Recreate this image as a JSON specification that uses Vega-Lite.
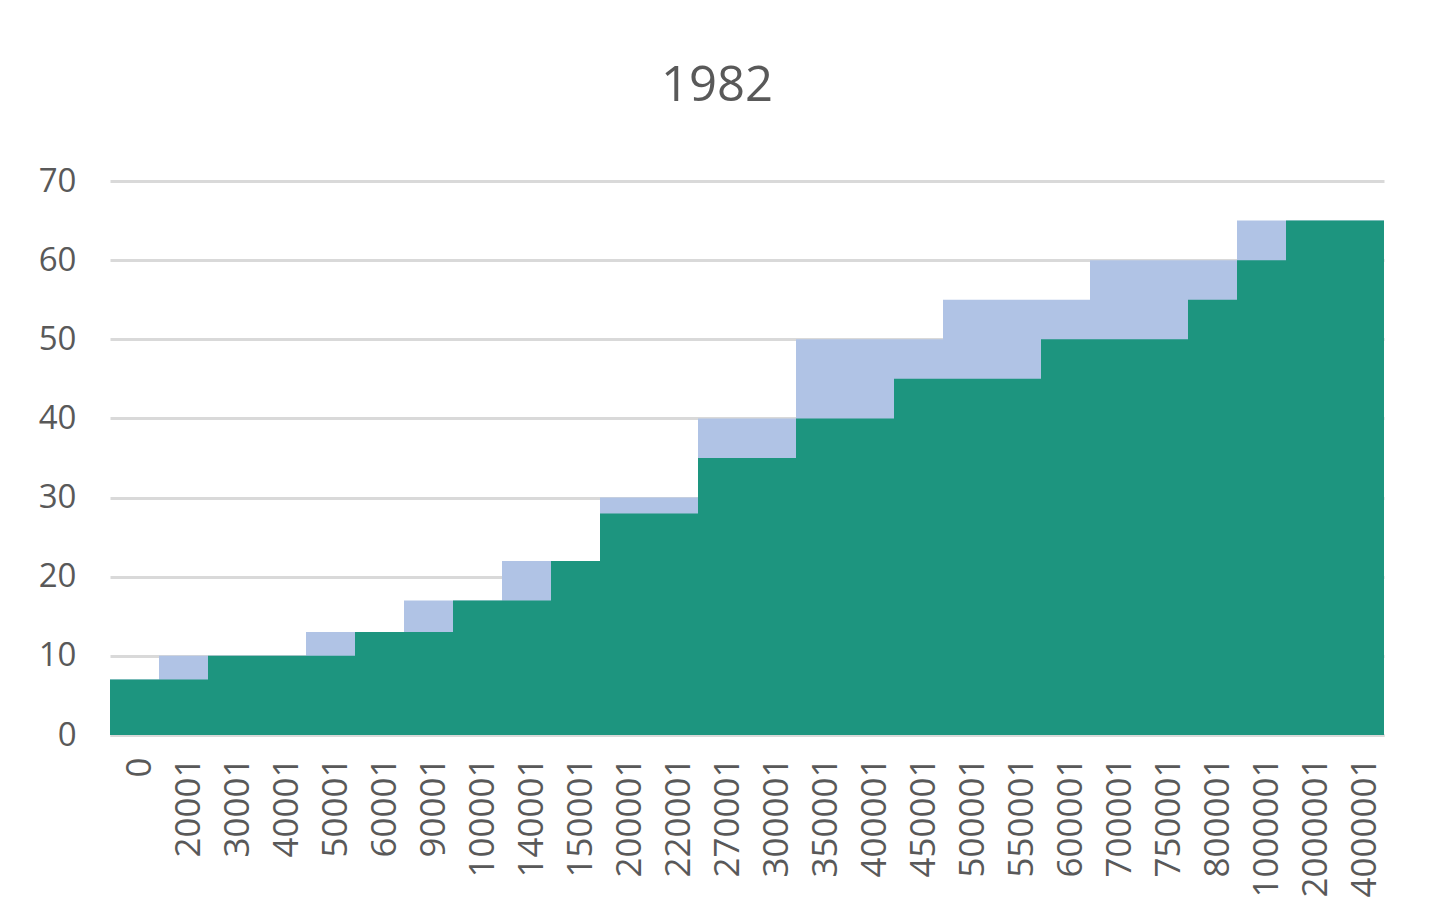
{
  "$schema": "https://vega.github.io/schema/vega-lite/v6.json",
  "width": 1274,
  "height": 554,
  "autosize": {"type": "none"},
  "padding": {"left": 110, "top": 181, "right": 51, "bottom": 186},
  "background": "#ffffff",
  "title": {
    "text": "1982",
    "font": "Open Sans",
    "fontSize": 49,
    "fontWeight": "normal",
    "color": "#595959",
    "anchor": "middle",
    "offset": 54,
    "dx": -30
  },
  "data": {
    "values": [
      {"cat": "0", "blue": 7, "green": 7},
      {"cat": "20001", "blue": 10, "green": 7},
      {"cat": "30001", "blue": 10, "green": 10},
      {"cat": "40001", "blue": 10, "green": 10},
      {"cat": "50001", "blue": 13, "green": 10},
      {"cat": "60001", "blue": 13, "green": 13},
      {"cat": "90001", "blue": 17, "green": 13},
      {"cat": "100001", "blue": 17, "green": 17},
      {"cat": "140001", "blue": 22, "green": 17},
      {"cat": "150001", "blue": 22, "green": 22},
      {"cat": "200001", "blue": 30, "green": 28},
      {"cat": "220001", "blue": 30, "green": 28},
      {"cat": "270001", "blue": 40, "green": 35},
      {"cat": "300001", "blue": 40, "green": 35},
      {"cat": "350001", "blue": 50, "green": 40},
      {"cat": "400001", "blue": 50, "green": 40},
      {"cat": "450001", "blue": 50, "green": 45},
      {"cat": "500001", "blue": 55, "green": 45},
      {"cat": "550001", "blue": 55, "green": 45},
      {"cat": "600001", "blue": 55, "green": 50},
      {"cat": "700001", "blue": 60, "green": 50},
      {"cat": "750001", "blue": 60, "green": 50},
      {"cat": "800001", "blue": 60, "green": 55},
      {"cat": "1000001", "blue": 65, "green": 60},
      {"cat": "2000001", "blue": 65, "green": 65},
      {"cat": "4000001", "blue": 65, "green": 65}
    ]
  },
  "encoding": {
    "x": {
      "field": "cat",
      "type": "nominal",
      "sort": null,
      "scale": {"paddingInner": 0, "paddingOuter": 0},
      "axis": {
        "title": null,
        "labelAngle": -90,
        "labelFont": "Open Sans",
        "labelFontSize": 35,
        "labelColor": "#595959",
        "labelPadding": 22,
        "labelOffset": 5,
        "ticks": false,
        "domain": true,
        "domainColor": "#d9d9d9",
        "domainWidth": 3,
        "grid": false
      }
    }
  },
  "layer": [
    {
      "mark": {"type": "bar", "color": "#b0c3e5", "width": {"band": 1}},
      "encoding": {
        "y": {
          "field": "blue",
          "type": "quantitative",
          "scale": {"domain": [0, 70]},
          "axis": {
            "title": null,
            "values": [0, 10, 20, 30, 40, 50, 60, 70],
            "labelFont": "Open Sans",
            "labelFontSize": 33,
            "labelColor": "#595959",
            "labelPadding": 34,
            "ticks": false,
            "domain": false,
            "grid": true,
            "gridColor": "#d9d9d9",
            "gridWidth": 3
          }
        }
      }
    },
    {
      "mark": {"type": "bar", "color": "#1d957f", "width": {"band": 1}},
      "encoding": {
        "y": {"field": "green", "type": "quantitative"}
      }
    }
  ],
  "config": {"view": {"stroke": null}}
}
